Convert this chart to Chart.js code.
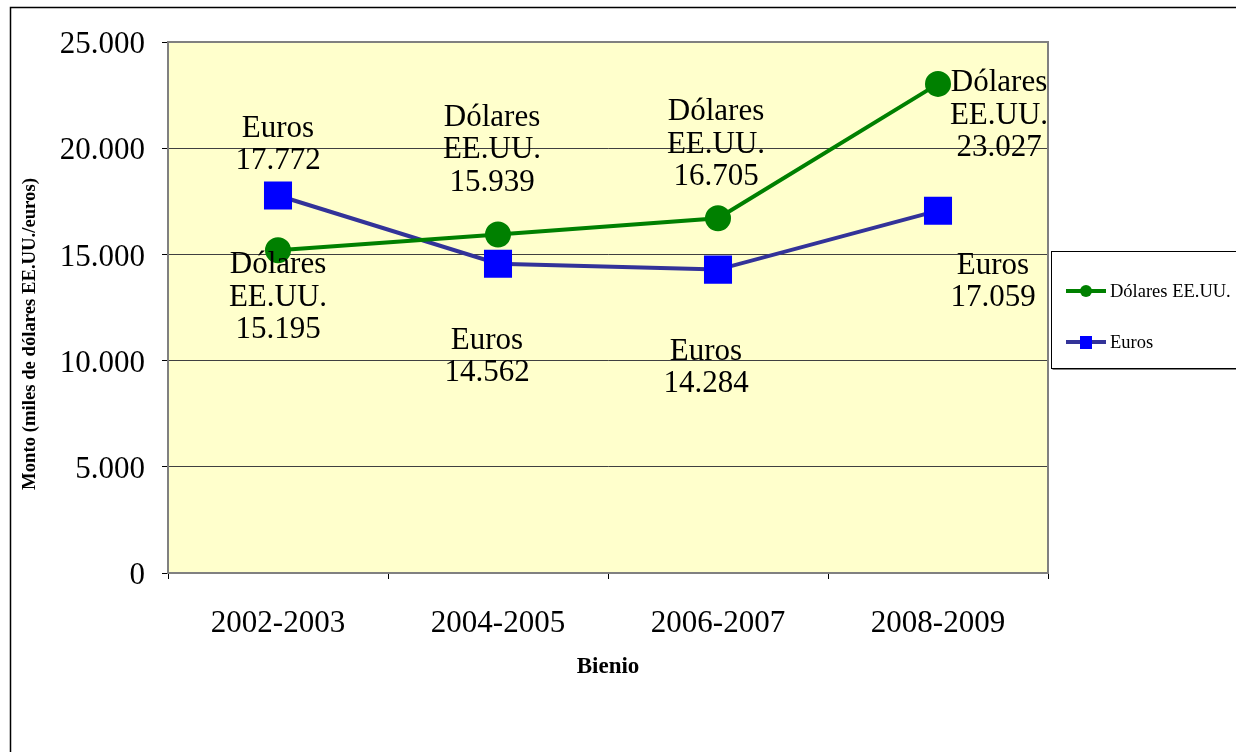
<!DOCTYPE html>
<html><head><meta charset="utf-8">
<script src="https://cdn.jsdelivr.net/npm/chart.js@4"></script>
<style>html,body{margin:0;padding:0;background:#fff}#wrap{width:1236px;height:752px}</style>
</head><body><div id="wrap"><canvas id="c" width="1236" height="752"></canvas></div>
<script>
const categories = ['2002-2003', '2004-2005', '2006-2007', '2008-2009'];
const dolares = [15195, 15939, 16705, 23027];
const euros = [17772, 14562, 14284, 17059];
const dolaresLabels = ['15.195', '15.939', '16.705', '23.027'];
const eurosLabels = ['17.772', '14.562', '14.284', '17.059'];
const seriesNames = ['Dólares EE.UU.', 'Euros'];
const yTicks = [0, 5000, 10000, 15000, 20000, 25000];

// label placement offsets (px) of first text line relative to point
const labelPlacement = [
  [[0, 15], [-6, -117], [-2, -106], [61, -1]],
  [[0, -67], [-11, 77], [-12, 82], [55, 55]]
];
const SERIF = '"Liberation Serif", "Times New Roman", serif';

function fmt(v) { return v === 0 ? '0' : v.toLocaleString('de-DE'); }

const decor = {
  id: 'decor',
  beforeDraw(chart) {
    const { ctx, chartArea: a } = chart;
    ctx.save();
    ctx.fillStyle = '#FFFFCC';
    ctx.fillRect(a.left, a.top, a.right - a.left, a.bottom - a.top);
    ctx.restore();
  },
  afterDatasetsDraw(chart) {
    const { ctx, chartArea: a } = chart;
    ctx.save();
    // plot border
    ctx.strokeStyle = '#808080';
    ctx.lineWidth = 2;
    ctx.strokeRect(a.left, a.top, a.right - a.left, a.bottom - a.top);
    // outer border
    ctx.strokeStyle = '#000';
    ctx.lineWidth = 1.5;
    ctx.strokeRect(10.5, 7.5, 1400, 900);
    // data labels
    ctx.fillStyle = '#000';
    ctx.font = '31px ' + SERIF;
    ctx.textAlign = 'center';
    ctx.textBaseline = 'middle';
    const texts = [
      dolaresLabels.map(v => [...seriesNames[0].split(' '), v]),
      eurosLabels.map(v => [seriesNames[1], v])
    ];
    chart.data.datasets.forEach((ds, di) => {
      const meta = chart.getDatasetMeta(di);
      meta.data.forEach((pt, i) => {
        const [dx, dy] = labelPlacement[di][i];
        texts[di][i].forEach((line, li) => {
          ctx.fillText(line, pt.x + dx, pt.y + dy + li * 32.5);
        });
      });
    });
    // y title
    ctx.save();
    ctx.translate(30, 334);
    ctx.rotate(-Math.PI / 2);
    ctx.font = 'bold 18.7px ' + SERIF;
    ctx.fillText('Monto (miles de dólares EE.UU./euros)', 0, 0);
    ctx.restore();
    // x title
    ctx.font = 'bold 23px ' + SERIF;
    ctx.fillText('Bienio', (a.left + a.right) / 2, 667);
    // legend
    const lx = 1051, ly = 251;
    ctx.fillStyle = '#fff';
    ctx.fillRect(lx, ly, 200, 117);
    ctx.strokeStyle = '#000';
    ctx.lineWidth = 1;
    ctx.strokeRect(lx + 0.5, ly + 0.5, 200, 117);
    ctx.strokeStyle = '#808080';
    ctx.beginPath(); ctx.moveTo(lx + 1.5, ly + 118.5); ctx.lineTo(lx + 201, ly + 118.5); ctx.stroke();
    const rows = [ly + 40, ly + 91];
    chart.data.datasets.forEach((ds, di) => {
      const y = rows[di];
      ctx.strokeStyle = ds.borderColor;
      ctx.lineWidth = 4;
      ctx.beginPath(); ctx.moveTo(1066, y); ctx.lineTo(1106, y); ctx.stroke();
      ctx.fillStyle = ds.pointBackgroundColor;
      if (di === 0) { ctx.beginPath(); ctx.arc(1086, y, 6, 0, Math.PI * 2); ctx.fill(); }
      else { ctx.fillRect(1080, y - 6, 12, 13); }
      ctx.fillStyle = '#000';
      ctx.font = '18.5px ' + SERIF;
      ctx.textAlign = 'left';
      ctx.fillText(ds.label, 1110, y + 1);
    });
    ctx.restore();
  }
};

new Chart(document.getElementById('c'), {
  type: 'line',
  data: {
    labels: categories,
    datasets: [
      { label: seriesNames[0], data: dolares, borderColor: '#008000', backgroundColor: '#008000',
        pointBackgroundColor: '#008000', pointBorderColor: '#008000', borderWidth: 4,
        pointStyle: 'circle', pointRadius: 11, pointHoverRadius: 11, tension: 0 },
      { label: seriesNames[1], data: euros, borderColor: '#333399', backgroundColor: '#0000FF',
        pointBackgroundColor: '#0000FF', pointBorderColor: '#0000FF', borderWidth: 4,
        pointStyle: 'rect', pointRadius: 17, pointHoverRadius: 17, tension: 0 }
    ]
  },
  options: {
    responsive: false,
    animation: false,
    events: [],
    layout: { padding: { left: 0, top: 42, right: 188, bottom: 0 } },
    plugins: { legend: { display: false }, tooltip: { enabled: false } },
    scales: {
      x: {
        offset: true,
        grid: { offset: true, drawOnChartArea: false, drawTicks: true, tickLength: 6, color: '#000', tickColor: '#000' },
        border: { color: '#000', width: 1.5 },
        ticks: { font: { family: SERIF, size: 31 }, color: '#000', padding: 26 },
        afterFit(s) { s.height = 179; }
      },
      y: {
        min: 0, max: 25000,
        afterBuildTicks(s) { s.ticks = yTicks.map(v => ({ value: v })); },
        grid: { color: '#404040', lineWidth: 1, drawTicks: true, tickLength: 6, tickColor: '#000' },
        border: { color: '#000', width: 1.5 },
        ticks: { font: { family: SERIF, size: 31 }, color: '#000', padding: 17, labelOffset: 3, callback: v => fmt(v) },
        afterFit(s) { s.width = 168; }
      }
    }
  },
  plugins: [decor]
});
</script></body></html>
